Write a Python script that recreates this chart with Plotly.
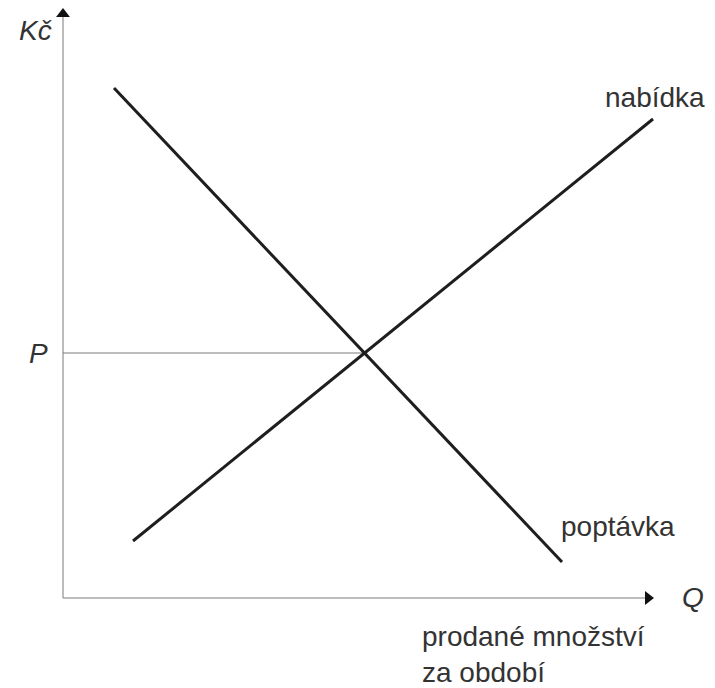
import plotly.graph_objects as go

# curve end points (Q, Kč) in chart units
demand_q = [5.1, 49.9]
demand_p = [51.0, 3.6]
supply_q = [7.0, 59.0]
supply_p = [5.7, 47.9]

# equilibrium
eq_q = 30.1
eq_p = 24.5

# axis lengths (centre of the arrow heads)
q_axis_end = 58.5
p_axis_end = 58.4

line_col = '#1e1e1e'
axis_col = '#7a7a7a'
text_col = '#333333'
font = 'Liberation Sans, Arial, sans-serif'

fig = go.Figure()

# axes
fig.add_trace(go.Scatter(
    x=[0, 0, None, 0, q_axis_end], y=[p_axis_end, 0, None, 0, 0], mode='lines',
    line=dict(color=axis_col, width=1), hoverinfo='skip'
))
fig.add_trace(go.Scatter(
    x=[0, q_axis_end], y=[p_axis_end, 0], mode='markers',
    marker=dict(symbol=['triangle-up', 'triangle-right'], size=12, color='#111111'),
    hoverinfo='skip'
))

# price line from P to the equilibrium
fig.add_trace(go.Scatter(
    x=[0, eq_q], y=[eq_p, eq_p], mode='lines',
    line=dict(color=axis_col, width=1), hoverinfo='skip'
))
fig.add_trace(go.Scatter(
    x=demand_q, y=demand_p, mode='lines',
    line=dict(color=line_col, width=3), hoverinfo='skip'
))
fig.add_trace(go.Scatter(
    x=supply_q, y=supply_p, mode='lines',
    line=dict(color=line_col, width=3), hoverinfo='skip'
))

labels = [
    ('<i>Kč</i>', -2.8, 56.8, 'center'),
    ('<i>P</i>', -2.5, 24.5, 'center'),
    ('<i>Q</i>', 63.0, 0.1, 'center'),
    ('nabídka', 59.2, 50.1, 'center'),
    ('poptávka', 55.5, 7.2, 'center'),
]
for txt, x, y, anc in labels:
    fig.add_annotation(
        x=x, y=y, xref='x', yref='y', text=txt, showarrow=False,
        xanchor=anc, yanchor='middle',
        font=dict(family=font, size=28, color=text_col)
    )

fig.add_annotation(
    x=35.7, y=-5.6, xref='x', yref='y',
    text='prodané množství<br>za období', showarrow=False,
    xanchor='left', yanchor='middle', align='left',
    font=dict(family=font, size=28, color=text_col)
)

# page body has an 8px margin, so the figure is 707x680 at offset (8, 8)
fig.update_layout(
    width=707, height=680,
    margin=dict(l=0, r=0, t=0, b=0),
    paper_bgcolor='white', plot_bgcolor='white',
    showlegend=False,
    xaxis=dict(range=[-5.5, 65.2], visible=False, fixedrange=True),
    yaxis=dict(range=[-9.0, 59.0], visible=False, fixedrange=True),
)

fig.write_html("out.html")
